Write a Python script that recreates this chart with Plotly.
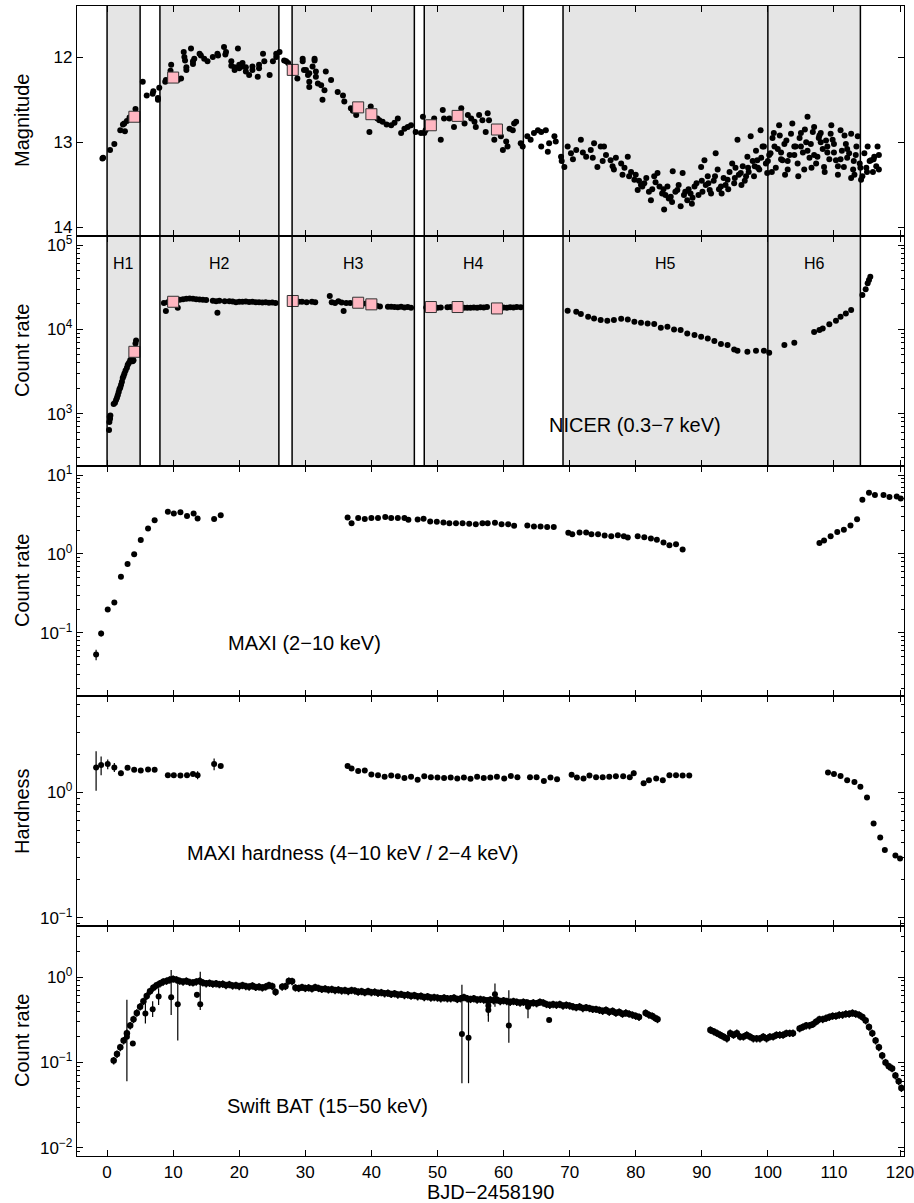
import plotly.graph_objects as go
from plotly.subplots import make_subplots

# ---------------- data ----------------
region_names = ["H1", "H2", "H3", "H4", "H5", "H6"]
region_start = [0, 8, 28, 48, 69, 100]
region_end = [5, 26, 46.5, 63, 100, 114]
region_label_x = [2.5, 17, 37.25, 55.5, 84.5, 107]

# optical magnitudes
magA_day = [-0.7, -0.6, 0.45, 1.1, 2.0, 2.4, 2.6, 2.7, 3.0, 3.4, 4.3, 5.4, 6.0, 6.9, 7.0, 7.7, 7.7, 7.9]
magA_val = [13.19, 13.18, 13.09, 13.02, 12.86, 12.79, 12.78, 12.87, 12.75, 12.71, 12.61, 12.29, 12.45, 12.43, 12.40, 12.48, 12.50, 12.36]
magB_day = [8.8, 8.9, 9.6, 9.7, 10.7, 11.2, 11.6, 11.7, 11.8, 12.0, 12.0, 12.7, 13.0, 13.0, 13.2, 14.0, 14.2, 14.7, 15.2, 16.0,
            16.7, 16.8, 17.7, 17.9, 18.0, 18.8, 18.8, 19.3, 19.3, 19.8, 20.0, 20.0, 20.5, 20.5, 21.0, 21.0, 21.5, 22.0, 22.0, 22.8,
            23.0, 23.0, 23.6, 23.8, 24.6, 25.1, 25.6, 25.6, 26.1, 26.8, 27.1, 27.4]
magB_val = [12.29, 12.27, 12.16, 12.09, 12.27, 12.25, 11.94, 12.00, 12.04, 12.15, 12.12, 11.90, 12.05, 12.08, 12.02, 11.96, 11.98, 12.02, 12.05, 12.00,
            11.96, 11.98, 11.88, 11.97, 11.94, 12.05, 12.10, 12.15, 12.12, 11.90, 12.09, 12.13, 12.07, 12.11, 12.17, 12.12, 12.21, 12.11, 12.15, 12.23,
            12.09, 12.13, 11.96, 12.05, 12.21, 12.05, 11.96, 12.00, 11.94, 12.04, 12.05, 12.07]
magC_day = [28.8, 29.6, 29.6, 29.8, 30.1, 30.4, 30.6, 30.6, 30.6, 31.1, 31.4, 31.4, 31.6, 31.6, 31.9, 32.4, 32.6, 32.9, 33.1, 33.9,
            34.9, 35.7, 35.9, 36.9, 37.2, 37.7, 39.7, 39.9, 40.9, 41.2, 41.7, 42.3, 43.0, 43.5, 44.0, 44.5, 45.0, 45.5, 46.0, 46.7, 47.5, 47.8, 48.0, 48.2]
magC_val = [12.25, 12.05, 12.02, 12.15, 12.15, 12.21, 12.29, 12.19, 12.35, 12.11, 12.02, 12.04, 12.17, 12.23, 12.31, 12.33, 12.50, 12.39, 12.17, 12.27,
            12.41, 12.45, 12.52, 12.60, 12.63, 12.68, 12.88, 12.58, 12.72, 12.74, 12.76, 12.79, 12.80, 12.77, 12.72, 12.89, 12.84, 12.82, 12.80, 12.88, 12.89, 12.70, 12.89, 12.86]
magD_day = [49.5, 50.5, 50.8, 51.0, 51.8, 52.5, 53.6, 54.1, 54.6, 55.1, 55.6, 55.8, 56.3, 56.8, 57.3, 57.6, 57.8, 58.6, 59.6, 59.9,
            60.4, 60.6, 60.9, 61.4, 61.6, 61.9, 62.6, 62.9, 63.6, 64.1, 64.6, 65.2, 65.7, 65.7, 66.4, 66.7, 66.9, 67.7, 67.9, 68.7, 68.8]
magD_val = [12.72, 12.97, 12.62, 12.72, 12.72, 12.82, 12.60, 12.78, 12.68, 12.72, 12.76, 12.82, 12.68, 12.74, 12.88, 12.66, 12.74, 12.97, 12.93, 13.09,
            12.99, 13.05, 12.84, 12.86, 12.78, 12.76, 13.01, 13.05, 12.93, 12.97, 12.89, 12.86, 12.88, 13.05, 12.86, 13.11, 13.01, 12.93, 12.99, 13.17, 13.22]
magE_day = [69.2, 69.7, 70.2, 71.0, 71.7, 72.5, 73.2, 73.7, 74.2, 74.7, 75.2, 75.5, 76.2, 76.7, 77.0, 77.8, 78.3, 78.8, 79.3, 79.8,
            80.0, 80.3, 80.8, 81.3, 81.6, 82.3, 82.5, 82.8, 83.3, 83.6, 84.0, 84.3, 84.5, 84.8, 85.0, 85.3, 85.6, 86.0, 86.3, 86.8,
            87.1, 87.3, 87.8, 88.0, 88.3, 88.6, 88.9, 89.2, 89.9, 90.1, 90.4, 90.6, 90.9, 91.2, 91.4, 91.8, 92.1, 92.4, 92.6, 92.9,
            93.3, 93.6, 93.9, 94.2, 94.6, 94.9, 95.1, 95.4, 95.6, 95.9, 96.2, 96.5, 96.9, 97.1, 97.4, 97.7, 97.9, 98.2, 98.4, 98.7,
            98.9, 99.2, 99.4, 99.7, 99.9, 100.2, 100.4, 100.7, 100.9, 101.2, 101.5, 101.7, 102.0, 102.2, 102.5, 102.8, 103.0, 103.3, 103.7, 104.0,
            104.2, 104.5, 104.8, 105.0, 105.3, 105.5, 105.8, 106.0, 106.3, 106.5, 106.8, 107.0, 107.3, 107.5, 107.8, 108.0, 108.3, 108.5, 108.8, 109.0,
            109.3, 109.5, 109.8, 110.0, 110.3, 110.6, 111.0, 111.2, 111.5, 111.8, 112.0, 112.3, 112.6, 112.9, 113.1, 113.4, 113.6, 113.9, 114.1, 114.3,
            114.6, 114.9, 115.1, 115.4, 115.6, 115.9, 116.1, 116.4, 116.6, 116.8, 116.8]
magE_val = [13.29, 13.05, 13.13, 13.09, 12.97, 13.17, 13.09, 13.01, 13.29, 13.05, 13.05, 13.15, 13.21, 13.32, 13.18, 13.25, 13.30, 13.17, 13.35, 13.44,
            13.38, 13.56, 13.50, 13.48, 13.42, 13.68, 13.55, 13.40, 13.36, 13.52, 13.60, 13.79, 13.62, 13.52, 13.66, 13.64, 13.34, 13.58, 13.56, 13.75,
            13.36, 13.62, 13.68, 13.55, 13.60, 13.65, 13.52, 13.48, 13.29, 13.58, 13.21, 13.50, 13.40, 13.56, 13.60, 13.45, 13.13, 13.32, 13.55, 13.52,
            13.42, 13.50, 13.44, 13.35, 13.25, 13.48, 13.30, 12.97, 13.38, 13.36, 13.28, 13.45, 13.17, 13.35, 12.93, 13.22, 13.40, 13.10, 13.21, 13.32,
            12.86, 13.05, 13.05, 13.25, 13.36, 13.15, 13.13, 12.95, 12.89, 13.30, 13.08, 12.80, 13.20, 13.21, 13.02, 12.98, 13.32, 13.15, 12.78, 13.05,
            13.05, 13.25, 12.95, 12.89, 13.12, 13.32, 13.00, 12.70, 13.18, 13.02, 12.88, 12.82, 13.25, 13.17, 12.92, 12.89, 13.08, 13.29, 12.98, 13.05,
            13.20, 12.90, 12.97, 13.12, 13.21, 13.28, 12.86, 13.10, 13.29, 13.02, 13.18, 13.13, 12.90, 13.32, 13.38, 13.05, 12.93, 13.25, 13.44, 13.40,
            13.13, 13.30, 13.05, 13.22, 13.21, 13.35, 13.17, 13.28, 13.05, 13.32, 13.15]
# extra optical points filling the dense late cloud
magF_day = [70.5, 72.0, 73.5, 75.0, 76.5, 78.0, 79.0, 80.5, 81.0, 82.0, 83.0, 84.2, 85.5, 86.5, 87.5, 88.5, 89.5, 90.0, 91.0, 92.0,
            93.0, 94.0, 95.0, 96.0, 97.0, 98.0, 99.0, 100.0, 101.0, 102.0, 103.0, 104.0, 105.0, 106.0, 107.0, 108.0, 109.0, 110.0, 111.0, 112.0,
            113.0, 114.0, 115.0, 116.0, 101.8, 103.5, 105.6, 107.7, 109.6, 111.6, 113.3, 100.6, 102.6, 104.6, 106.6, 108.6, 110.6, 112.6, 96.7, 98.5]
magF_val = [13.20, 13.12, 13.18, 13.22, 13.28, 13.38, 13.40, 13.45, 13.52, 13.58, 13.47, 13.55, 13.70, 13.50, 13.58, 13.72, 13.62, 13.45, 13.48, 13.40,
            13.60, 13.55, 13.42, 13.50, 13.30, 13.28, 13.18, 13.22, 13.05, 13.12, 13.22, 13.15, 13.05, 13.10, 13.15, 13.00, 13.12, 13.02, 13.20, 13.08,
            13.22, 13.30, 13.35, 13.20, 12.92, 12.90, 12.85, 12.95, 12.80, 12.92, 13.15, 13.35, 13.38, 13.40, 13.30, 13.35, 13.38, 13.42, 13.40, 13.30]

# epochs marked with squares (optical + NICER)
sq_day = [4.13, 10.0, 28.1, 38.0, 40.0, 49.0, 53.05, 59.0]
sq_mag = [12.70, 12.24, 12.15, 12.59, 12.67, 12.80, 12.69, 12.85]
sq_nicer = [5420, 21240, 21700, 20700, 19800, 18400, 18400, 17700]

# NICER count rate
nicer_day = [0.3, 0.35, 0.4, 0.45, 0.5, 1.0, 1.2, 1.36, 1.5, 1.62, 1.75, 1.87, 2.0, 2.12, 2.25, 2.37, 2.5, 2.63, 2.8, 3.0, 3.13, 3.3, 3.5, 3.7, 3.88, 4.0, 4.3, 4.39,
             8.6, 8.9, 9.2, 9.5, 10.3, 10.7, 11.0, 11.5, 12.0, 12.5, 13.0, 13.5, 14.0, 14.5, 15.0, 16.0, 16.5, 16.7, 17.0, 17.8,
             18.5, 19.0, 19.5, 20.0, 20.5, 21.0, 21.5, 22.0, 22.5, 23.0, 23.5, 24.0, 24.5, 25.0, 25.5,
             29.0, 29.5, 30.2, 31.0, 31.5, 33.7, 34.0, 34.5, 35.0, 35.5, 35.8, 36.2, 36.8, 38.6, 39.2, 40.8, 41.3, 42.5, 43.0, 43.5, 44.0, 44.5, 45.0, 45.5, 46.0,
             48.3, 50.0, 50.5, 51.5, 52.0, 54.0, 54.5, 55.0, 55.5, 56.0, 56.5, 57.0, 57.5, 60.0, 60.5, 61.0, 61.5, 62.0, 62.6,
             69.7, 71.0, 71.7, 72.8, 73.7, 74.7, 75.7, 76.7, 77.8, 78.8, 79.8, 80.8, 81.8, 82.8, 83.8, 84.8, 85.8, 86.8, 87.8, 88.9, 89.9, 90.9, 91.9, 92.9, 93.9, 94.9, 95.4, 96.9, 98.2, 99.4, 100.2,
             102.5, 104.0, 107.0, 107.8, 108.3, 109.3, 110.3, 111.0, 111.8, 112.6,
             114.3, 114.8, 115.1, 115.3, 115.5]
nicer_rate = [640, 800, 920, 870, 950, 1300, 1350, 1450, 1550, 1650, 1800, 1950, 2050, 2200, 2400, 2650, 2800, 3000, 3250, 3500, 3800, 4000, 4300, 4500, 4200, 4300, 6800, 7400,
              20500, 16500, 21000, 22000, 21800, 18000, 22500, 22800, 23000, 23200, 23000, 22800, 22600, 22500, 22300, 21800, 21600, 15700, 21800, 21500,
              21600, 21400, 21000, 21200, 21300, 21400, 21100, 21200, 21000, 21000, 20800, 20900, 20700, 20800, 20600,
              21300, 21200, 21000, 21200, 21000, 24800, 21000, 20500, 21500, 20800, 16500, 20500, 20600, 20000, 20200, 19000, 18700, 18500, 18600, 18400, 18300, 18500, 18200, 18400, 18000,
              18200, 18000, 18200, 18300, 18400, 18000, 18100, 18000, 18200, 18100, 18300, 18200, 18400, 18200, 18000, 18300, 18200, 18400, 18300,
              16630, 16190, 15180, 14120, 13490, 12890, 12650, 12890, 13370, 13100, 12310, 11990, 11770, 11560, 10450, 10740, 9990, 9810, 8960, 8560, 8180, 7810, 7260, 6690, 6510, 5780, 5580, 5430, 5580, 5580, 5280,
              6510, 6940, 9290, 9810, 10270, 11460, 12650, 14120, 15450, 16950,
              25500, 29800, 35100, 38400, 42100]

# MAXI 2-10 keV
maxi_day = [-1.66, -0.9, 0.1, 1.1, 2.1, 3.1, 4.1, 5.1, 6.2, 7.2, 9.2, 10.1, 11.1, 12.1, 13.1, 13.7, 16.2, 17.2,
            36.4, 37.0, 38.0, 39.0, 40.0, 41.0, 42.1, 43.0, 44.0, 45.0, 45.6, 47.0, 47.9, 48.9, 49.9, 50.9, 51.8, 52.8, 53.8, 54.8, 55.8, 56.8, 57.6, 58.7, 59.7, 60.7, 61.6,
            63.6, 64.6, 65.6, 66.6, 67.6, 69.8, 70.4, 71.5, 72.5, 73.3, 74.3, 75.3, 76.3, 77.3, 78.2, 78.8, 80.3, 81.3, 82.3, 83.2, 84.2, 85.1, 86.1, 87.1,
            107.8, 108.5, 109.5, 110.5, 111.5, 112.5, 113.5, 114.3, 115.3, 116.2, 117.5, 118.4, 119.5, 120.1]
maxi_rate = [0.053, 0.098, 0.197, 0.242, 0.513, 0.743, 0.994, 1.50, 2.10, 2.68, 3.42, 3.26, 3.38, 3.02, 3.26, 2.82, 2.77, 3.10,
             2.90, 2.44, 2.85, 2.78, 2.85, 2.85, 2.93, 2.85, 2.85, 2.85, 2.71, 2.74, 2.79, 2.58, 2.56, 2.51, 2.44, 2.44, 2.44, 2.41, 2.37, 2.44, 2.44, 2.48, 2.37, 2.37, 2.28,
             2.30, 2.23, 2.23, 2.19, 2.19, 1.85, 1.78, 1.87, 1.87, 1.77, 1.77, 1.71, 1.67, 1.73, 1.67, 1.62, 1.67, 1.63, 1.57, 1.51, 1.40, 1.29, 1.33, 1.14,
             1.38, 1.48, 1.68, 1.89, 2.02, 2.30, 2.76, 4.86, 5.97, 5.57, 5.57, 5.26, 5.35, 5.05]
maxi_err = [0.008, 0.008, 0.01, 0.01, 0.02, 0.02, 0.03, 0.03, 0.04, 0.05, 0.05, 0.05, 0.05, 0.05, 0.05, 0.05, 0.05, 0.05,
            0.05, 0.05, 0.05, 0.05, 0.05, 0.05, 0.05, 0.05, 0.05, 0.05, 0.05, 0.05, 0.05, 0.05, 0.05, 0.05, 0.05, 0.05, 0.05, 0.05, 0.05, 0.05, 0.05, 0.05, 0.05, 0.05, 0.05,
            0.04, 0.04, 0.04, 0.04, 0.04, 0.04, 0.04, 0.04, 0.04, 0.04, 0.04, 0.04, 0.04, 0.04, 0.04, 0.04, 0.04, 0.04, 0.04, 0.04, 0.04, 0.04, 0.04, 0.04,
            0.04, 0.04, 0.04, 0.05, 0.05, 0.05, 0.06, 0.08, 0.08, 0.08, 0.08, 0.08, 0.08, 0.08]

# MAXI hardness (4-10 keV / 2-4 keV)
hard_day = [-1.66, -0.9, 0.1, 1.1, 2.1, 3.1, 4.1, 5.1, 6.2, 7.2, 9.2, 10.1, 11.1, 12.1, 13.0, 13.7, 16.2, 17.2,
            36.4, 37.0, 38.0, 39.0, 40.0, 41.0, 42.0, 43.0, 44.0, 45.0, 46.0, 47.0, 48.0, 49.0, 50.0, 51.0, 52.0, 53.0, 54.0, 55.0, 56.0, 57.0, 58.0, 59.0,
            60.1, 61.1, 62.1, 64.0, 65.0, 66.1, 67.1, 68.1, 70.3, 71.1, 72.1, 73.0, 74.0, 75.0, 76.0, 77.0, 78.1, 79.1, 79.7, 81.2, 82.0, 83.1, 84.1, 85.1, 86.1, 87.1, 88.1,
            109.1, 110.0, 111.0, 112.0, 113.1, 114.0, 115.0, 116.0, 117.0, 117.7, 119.3, 120.0]
hard_val = [1.58, 1.65, 1.68, 1.58, 1.42, 1.57, 1.51, 1.49, 1.52, 1.51, 1.37, 1.37, 1.36, 1.37, 1.40, 1.37, 1.68, 1.62,
            1.62, 1.55, 1.48, 1.49, 1.39, 1.37, 1.33, 1.36, 1.34, 1.30, 1.33, 1.26, 1.34, 1.32, 1.31, 1.30, 1.31, 1.29, 1.31, 1.28, 1.33, 1.30, 1.31, 1.33,
            1.29, 1.35, 1.32, 1.32, 1.32, 1.23, 1.31, 1.27, 1.38, 1.31, 1.29, 1.36, 1.32, 1.32, 1.33, 1.34, 1.34, 1.32, 1.42, 1.18, 1.25, 1.29, 1.25, 1.37, 1.37, 1.36, 1.36,
            1.44, 1.40, 1.35, 1.25, 1.21, 1.11, 0.91, 0.565, 0.437, 0.347, 0.314, 0.297]
hard_err = [0.55, 0.28, 0.15, 0.13, 0.07, 0.04, 0.03, 0.03, 0.03, 0.03, 0.03, 0.03, 0.03, 0.03, 0.04, 0.10, 0.18, 0.06,
            0.05, 0.03, 0.03, 0.03, 0.03, 0.03, 0.03, 0.03, 0.03, 0.03, 0.03, 0.03, 0.03, 0.03, 0.03, 0.03, 0.03, 0.03, 0.03, 0.03, 0.03, 0.03, 0.03, 0.03,
            0.03, 0.03, 0.03, 0.03, 0.03, 0.03, 0.03, 0.03, 0.04, 0.03, 0.03, 0.03, 0.03, 0.03, 0.03, 0.03, 0.03, 0.03, 0.07, 0.04, 0.03, 0.03, 0.03, 0.05, 0.05, 0.05, 0.05,
            0.06, 0.05, 0.03, 0.03, 0.03, 0.03, 0.02, 0.01, 0.01, 0.01, 0.01, 0.01]

# Swift BAT 15-50 keV
bat_day = [1.0, 1.5, 2.0, 2.5, 3.0, 3.5, 4.0, 4.5, 5.0, 5.5, 6.0, 6.5, 7.0, 7.5, 8.0, 8.5, 9.0, 9.5, 10.0, 10.5,
           11.0, 11.5, 12.0, 12.5, 13.0, 13.5, 14.0, 14.5, 15.0, 15.5, 16.0, 16.5, 17.0, 17.5, 18.0, 18.5, 19.0, 19.5, 20.0, 20.5,
           21.0, 21.5, 22.0, 22.5, 23.0, 23.5, 24.0, 24.5, 25.0, 25.5, 26.5, 27.0, 27.5, 28.0, 28.5, 29.0, 29.5, 30.0, 30.5, 31.0,
           31.5, 32.0, 32.5, 33.0, 33.5, 34.0, 34.5, 35.0, 35.5, 36.0, 36.5, 37.0, 37.5, 38.0, 38.5, 39.0, 39.5, 40.0, 40.5, 41.0,
           41.5, 42.0, 42.5, 43.0, 43.5, 44.0, 44.5, 45.0, 45.5, 46.0, 46.5, 47.0, 47.5, 48.0, 48.5, 49.0, 49.5, 50.0, 50.5, 51.0,
           51.5, 52.0, 52.5, 53.0, 53.5, 54.0, 54.5, 55.0, 55.5, 56.0, 56.5, 57.0, 57.5, 58.0, 58.5, 59.0, 59.5, 60.0, 60.5, 61.0,
           61.5, 62.0, 62.5, 63.0, 63.5, 64.0, 64.5, 65.0, 65.5, 66.0, 66.5, 67.0, 67.5, 68.0, 68.5, 69.0, 69.5, 70.0, 70.5, 71.0,
           71.5, 72.0, 72.5, 73.0, 73.5, 74.0, 74.5, 75.0, 75.5, 76.0, 76.5, 77.0, 77.5, 78.0, 78.5, 79.0, 79.5, 80.0, 80.5, 81.5,
           82.0, 82.5, 83.0, 83.3,
           91.3, 91.8, 92.3, 92.8, 93.3, 93.8, 94.3, 94.8, 95.3, 95.8, 96.3, 96.8, 97.3, 97.8, 98.3, 98.8, 99.3, 99.8, 100.3, 100.8,
           101.3, 101.8, 102.3, 102.8, 103.3, 103.8, 104.8, 105.3, 105.8, 106.3, 106.8, 107.3, 107.8, 108.3, 108.8, 109.3, 109.8, 110.3, 110.8, 111.3,
           111.8, 112.3, 112.8, 113.3, 113.8, 114.3, 114.8, 115.3, 115.8, 116.3, 116.8, 117.3, 117.8, 118.3, 118.8, 119.3, 119.8, 120.2]
bat_rate = [0.105, 0.125, 0.15, 0.18, 0.22, 0.27, 0.32, 0.38, 0.45, 0.52, 0.60, 0.68, 0.75, 0.80, 0.84, 0.88, 0.90, 0.93, 0.95, 0.93,
            0.90, 0.88, 0.90, 0.87, 0.86, 0.88, 0.90, 0.86, 0.84, 0.85, 0.83, 0.84, 0.82, 0.83, 0.80, 0.82, 0.79, 0.80, 0.78, 0.80,
            0.78, 0.77, 0.79, 0.76, 0.77, 0.75, 0.77, 0.80, 0.78, 0.67, 0.77, 0.78, 0.90, 0.89, 0.75, 0.74, 0.76, 0.74, 0.75, 0.73,
            0.76, 0.74, 0.72, 0.73, 0.71, 0.72, 0.70, 0.71, 0.69, 0.70, 0.68, 0.70, 0.69, 0.67, 0.68, 0.66, 0.68, 0.66, 0.67, 0.65,
            0.66, 0.64, 0.65, 0.63, 0.64, 0.62, 0.63, 0.61, 0.62, 0.60, 0.61, 0.59, 0.60, 0.58, 0.59, 0.57, 0.58, 0.57, 0.56, 0.57,
            0.56, 0.56, 0.57, 0.55, 0.56, 0.58, 0.56, 0.55, 0.56, 0.54, 0.55, 0.54, 0.53, 0.54, 0.53, 0.54, 0.52, 0.53, 0.52, 0.51,
            0.52, 0.51, 0.50, 0.51, 0.50, 0.49, 0.50, 0.49, 0.51, 0.50, 0.48, 0.47, 0.48, 0.47, 0.48, 0.46, 0.47, 0.46, 0.45, 0.44,
            0.45, 0.43, 0.44, 0.43, 0.42, 0.42, 0.41, 0.40, 0.41, 0.39, 0.40, 0.38, 0.39, 0.37, 0.38, 0.37, 0.36, 0.35, 0.34, 0.38,
            0.36, 0.35, 0.33, 0.32,
            0.24, 0.23, 0.22, 0.21, 0.20, 0.19, 0.22, 0.21, 0.22, 0.20, 0.20, 0.21, 0.20, 0.19, 0.19, 0.19, 0.20, 0.19, 0.20, 0.20,
            0.21, 0.21, 0.21, 0.22, 0.22, 0.22, 0.25, 0.26, 0.27, 0.27, 0.28, 0.30, 0.32, 0.32, 0.33, 0.34, 0.35, 0.35, 0.36, 0.36,
            0.37, 0.37, 0.38, 0.37, 0.36, 0.34, 0.31, 0.26, 0.22, 0.18, 0.15, 0.12, 0.10, 0.09, 0.085, 0.07, 0.06, 0.05]
# BAT points with large uncertainties
batx_day = [3.0, 3.9, 5.8, 6.9, 7.8, 9.7, 10.7, 13.6, 14.1, 53.7, 54.7, 57.7, 57.7, 58.7, 60.8, 63.7, 66.9]
batx_rate = [0.20, 0.166, 0.375, 0.42, 0.59, 0.58, 0.48, 0.62, 0.48, 0.215, 0.194, 0.46, 0.41, 0.63, 0.27, 0.45, 0.313]
batx_up = [0.34, 0.01, 0.11, 0.10, 0.15, 0.63, 0.48, 0.05, 0.67, 0.595, 0.40, 0.07, 0.07, 0.21, 0.43, 0.10, 0.01]
batx_dn = [0.14, 0.01, 0.09, 0.08, 0.12, 0.22, 0.30, 0.05, 0.07, 0.158, 0.137, 0.11, 0.11, 0.18, 0.10, 0.12, 0.01]

# ---------------- figure ----------------
FONT = "Liberation Sans, Arial, Helvetica, sans-serif"
fig = make_subplots(rows=5, cols=1, shared_xaxes=True, vertical_spacing=0)

dot = dict(color="black", size=6)
mag_day = magA_day + magB_day + magC_day + magD_day + magE_day + magF_day
mag_val = magA_val + magB_val + magC_val + magD_val + magE_val + magF_val
fig.add_trace(go.Scatter(x=mag_day, y=mag_val, mode="markers", marker=dot), row=1, col=1)
sqm = dict(symbol="square", size=11, color="#ffb6c1", line=dict(color="#333333", width=1))
fig.add_trace(go.Scatter(x=sq_day, y=sq_mag, mode="markers", marker=sqm), row=1, col=1)

fig.add_trace(go.Scatter(x=nicer_day, y=nicer_rate, mode="markers", marker=dot), row=2, col=1)
fig.add_trace(go.Scatter(x=sq_day, y=sq_nicer, mode="markers", marker=sqm), row=2, col=1)

fig.add_trace(go.Scatter(x=maxi_day, y=maxi_rate, mode="markers", marker=dot,
                         error_y=dict(type="data", array=maxi_err, color="black", thickness=1.2, width=0)), row=3, col=1)
fig.add_trace(go.Scatter(x=hard_day, y=hard_val, mode="markers", marker=dot,
                         error_y=dict(type="data", array=hard_err, color="black", thickness=1.2, width=0)), row=4, col=1)
fig.add_trace(go.Scatter(x=bat_day, y=bat_rate, mode="markers", marker=dict(color="black", size=6.5),
                         error_y=dict(type="percent", value=10, color="black", thickness=1.5, width=0)), row=5, col=1)
fig.add_trace(go.Scatter(x=batx_day, y=batx_rate, mode="markers", marker=dot,
                         error_y=dict(type="data", array=batx_up, arrayminus=batx_dn, color="black", thickness=1.2, width=0)), row=5, col=1)

# shaded epochs and boundaries over the two top panels
for s, e in zip(region_start, region_end):
    fig.add_shape(type="rect", xref="x", yref="paper", x0=s, x1=e, y0=0.6, y1=1.0,
                  fillcolor="#e5e5e5", line=dict(width=0), layer="below")
bounds = sorted(set(region_start + region_end))
for b in bounds:
    fig.add_shape(type="line", xref="x", yref="paper", x0=b, x1=b, y0=0.6, y1=1.0,
                  line=dict(color="black", width=1.5), layer="above")

axis_common = dict(showline=True, linecolor="black", linewidth=1.3, mirror="ticks",
                   ticks="inside", ticklen=6, tickwidth=1.2, tickcolor="black", automargin=False,
                   showgrid=False, zeroline=False, tickfont=dict(family=FONT, size=17, color="black"))
for i in range(1, 6):
    fig.update_xaxes(range=[-4.55, 120.6], dtick=10, tick0=0, showticklabels=(i == 5),
                     ticklabeloverflow="allow", row=i, col=1, **axis_common)

fig.update_yaxes(range=[14.1, 11.4], tickvals=[12, 13, 14], row=1, col=1, **axis_common)


def sup(e):
    s = str(e).replace("-", "\u2212")
    return "10<sup>" + s + "</sup>"


log_ranges = {2: [2.38, 5.107], 3: [-1.80, 1.114], 4: [-1.066, 0.768], 5: [-2.097, 0.598]}
log_decades = {2: [3, 4, 5], 3: [-1, 0, 1], 4: [-1, 0], 5: [-2, -1, 0]}
for r, rg in log_ranges.items():
    decs = log_decades[r]
    minor_vals = [m * 10.0 ** d for d in range(int(rg[0]) - 2, int(rg[1]) + 2) for m in range(2, 10)]
    fig.update_yaxes(type="log", range=rg, tickmode="array",
                     tickvals=[10.0 ** d for d in decs], ticktext=[sup(d) for d in decs],
                     minor=dict(ticks="inside", ticklen=3, tickwidth=1, tickcolor="black",
                                tickmode="array", tickvals=minor_vals, showgrid=False),
                     row=r, col=1, **axis_common)

ann = []
# region labels
for name, lx in zip(region_names, region_label_x):
    ann.append(dict(x=lx, y=4.786, xref="x", yref="y2", text=name, showarrow=False,
                    font=dict(family=FONT, size=16, color="black")))
lab = dict(showarrow=False, font=dict(family=FONT, size=20, color="black"))
ann.append(dict(x=79.9, y=2.865, xref="x", yref="y2", text="NICER (0.3\u22127 keV)", **lab))
ann.append(dict(x=29.95, y=-1.132, xref="x", yref="y3", text="MAXI (2\u221210 keV)", **lab))
ann.append(dict(x=37.1, y=-0.484, xref="x", yref="y4", text="MAXI hardness (4\u221210 keV / 2\u22124 keV)", **lab))
ann.append(dict(x=33.4, y=-1.512, xref="x", yref="y5", text="Swift BAT (15\u221250 keV)", **lab))
# axis titles
ytitles = ["Magnitude", "Count rate", "Count rate", "Hardness", "Count rate"]
ycent = [0.9, 0.7, 0.5, 0.3, 0.1]
for t, yc in zip(ytitles, ycent):
    ann.append(dict(x=-0.0665, y=yc, xref="paper", yref="paper", text=t, textangle=-90,
                    showarrow=False, xanchor="center", yanchor="middle",
                    font=dict(family=FONT, size=20, color="black")))
ann.append(dict(x=0.5, y=-0.0315, xref="paper", yref="paper", text="BJD\u22122458190",
                showarrow=False, xanchor="center", yanchor="middle",
                font=dict(family=FONT, size=20, color="black")))

fig.update_layout(width=914, height=1203, margin=dict(l=77, r=10, t=6, b=47),
                  paper_bgcolor="white", plot_bgcolor="rgba(0,0,0,0)",
                  showlegend=False, annotations=ann, font=dict(family=FONT, color="black"))

fig.write_html("out.html", config={"displayModeBar": False},
               post_script="document.body.style.margin='0px';document.body.style.overflow='hidden';")
